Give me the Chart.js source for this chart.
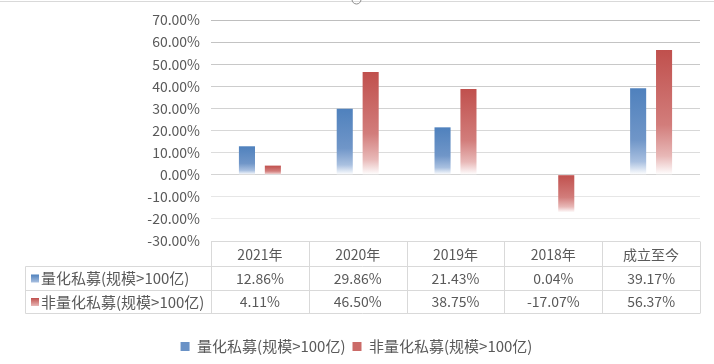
<!DOCTYPE html>
<html>
<head>
<meta charset="utf-8">
<script src="https://cdn.jsdelivr.net/npm/chart.js@4"></script>
<style>
  html, body { margin: 0; padding: 0; background: #fff; }
  #wrap { width: 714px; height: 364px; }
</style>
</head>
<body>
<div id="wrap"><canvas id="returns_chart"></canvas></div>
<script>
// categories and series
const categories = ['2021年', '2020年', '2019年', '2018年', '成立至今'];
const seriesNames = ['量化私募(规模>100亿)', '非量化私募(规模>100亿)'];
const quantReturns = [12.86, 29.86, 21.43, 0.04, 39.17];
const nonQuantReturns = [4.11, 46.50, 38.75, -17.07, 56.37];

const FONT = '"Noto Sans CJK SC", "Noto Sans", sans-serif';
const NUM_SIZE = 14;   // numbers and headers
const NAME_SIZE = 15;  // series names
const TEXT = '#595959';
const LINE = '#D9D9D9';

// bar fill: solid at the top of the bar, fading to white at its bottom
const barFill = (stops, flat) => {
    return function(ctx) {
        const chart = ctx.chart;
        if (ctx.type !== 'data' || !chart.chartArea) return flat;
        const y = chart.scales.y;
        const v = ctx.raw;
        const top = y.getPixelForValue(Math.max(v, 0));
        const bottom = y.getPixelForValue(Math.min(v, 0));
        if (bottom - top < 1) return 'rgba(255,255,255,0)'; // too thin to show
        const g = chart.ctx.createLinearGradient(0, top, 0, bottom);
        g.addColorStop(0, stops[0]);
        g.addColorStop(0.6, stops[1]);
        g.addColorStop(0.85, stops[2]);
        g.addColorStop(1, stops[3]);
        return g;
    };
};
const blueStops = ['#4F81BD', '#7096C8', '#A9C0E0', '#FFFFFF'];
const redStops = ['#C0504D', '#D27D7B', '#E8B8B7', '#FFFFFF'];

const fmt = (v) => v.toFixed(2) + '%';

// grid lines get lighter toward the bottom, zero line a bit stronger
const gridColor = (ctx) => {
    const i = ctx.index;
    if (i === 0) return LINE;
    if (i === 3) return '#D4D4D4';
    const g = 190 + (10 - i) * 5;
    return 'rgb(' + g + ',' + g + ',' + g + ')';
};

// data table under the plot, plus the frame line at the top
const tablePlugin = {
    id: 'dataTable',
    beforeDraw(chart) {
        const ctx = chart.ctx;
        ctx.save();
        ctx.strokeStyle = LINE;
        ctx.lineWidth = 1;
        ctx.beginPath();
        ctx.moveTo(0, 1.5);
        ctx.lineTo(714, 1.5);
        ctx.stroke();
        ctx.strokeStyle = '#8C8C8C';
        ctx.beginPath();
        ctx.arc(356.5, -0.5, 4.5, 0, Math.PI);
        ctx.stroke();
        ctx.restore();
    },
    afterDraw(chart) {
        const ctx = chart.ctx;
        const area = chart.chartArea;
        const x = chart.scales.x;
        const colW = (area.right - area.left) / categories.length;
        const top = Math.round(area.bottom) + 0.5;
        const rows = [top, top + 25, top + 49, top + 72];
        const labelLeft = 25.5;

        ctx.save();
        ctx.strokeStyle = LINE;
        ctx.lineWidth = 1;
        ctx.beginPath();
        // horizontal lines
        ctx.moveTo(area.left, rows[0]); ctx.lineTo(area.right, rows[0]);
        for (let r = 1; r < rows.length; r++) {
            ctx.moveTo(labelLeft, rows[r]);
            ctx.lineTo(area.right, rows[r]);
        }
        // vertical lines
        for (let i = 0; i <= categories.length; i++) {
            const px = Math.round(area.left + i * colW) + 0.5;
            ctx.moveTo(px, rows[0]);
            ctx.lineTo(px, rows[3]);
        }
        ctx.moveTo(labelLeft, rows[1]);
        ctx.lineTo(labelLeft, rows[3]);
        ctx.stroke();

        ctx.fillStyle = TEXT;
        ctx.textBaseline = 'middle';
        const series = [
            { name: seriesNames[0], values: quantReturns, stops: blueStops },
            { name: seriesNames[1], values: nonQuantReturns, stops: redStops }
        ];
        series.forEach((s, r) => {
            const cy = (rows[r + 1] + rows[r + 2]) / 2;
            // small marker
            const g = ctx.createLinearGradient(0, cy - 4, 0, cy + 4);
            g.addColorStop(0, s.stops[0]);
            g.addColorStop(1, s.stops[2]);
            ctx.fillStyle = g;
            ctx.fillRect(31, cy - 4, 8, 8);
            ctx.fillStyle = TEXT;
            ctx.textAlign = 'left';
            ctx.font = NAME_SIZE + 'px ' + FONT;
            ctx.fillText(s.name, 41, cy);
            ctx.textAlign = 'center';
            ctx.font = NUM_SIZE + 'px ' + FONT;
            s.values.forEach((v, i) => {
                ctx.fillText(fmt(v), x.getPixelForValue(i), cy);
            });
        });
        ctx.restore();
    }
};

new Chart('returns_chart', {
    type: 'bar',
    data: {
        labels: categories,
        datasets: [
            {
                label: seriesNames[0],
                data: quantReturns,
                backgroundColor: barFill(blueStops, '#6A92C6')
            },
            {
                label: seriesNames[1],
                data: nonQuantReturns,
                backgroundColor: barFill(redStops, '#CB6B68')
            }
        ]
    },
    options: {
        responsive: true,
        maintainAspectRatio: false,
        animation: false,
        events: [],
        categoryPercentage: 0.53,
        barPercentage: 0.62,
        layout: {
            padding: { left: 13, right: 14, top: 20, bottom: 0 }
        },
        plugins: {
            tooltip: { enabled: false },
            legend: {
                position: 'bottom',
                labels: {
                    boxWidth: 9,
                    boxHeight: 9,
                    padding: 7,
                    color: TEXT,
                    font: { family: FONT, size: NAME_SIZE },
                    generateLabels: (chart) => chart.data.datasets.map((ds, i) => ({
                        text: ds.label,
                        fillStyle: i === 0 ? '#6A92C6' : '#CB6B68',
                        strokeStyle: 'rgba(0,0,0,0)',
                        lineWidth: 0,
                        fontColor: TEXT,
                        datasetIndex: i
                    }))
                }
            }
        },
        scales: {
            x: {
                grid: { display: false, drawTicks: false },
                border: { display: false },
                ticks: {
                    color: TEXT,
                    font: { family: FONT, size: NUM_SIZE },
                    padding: 5
                },
                afterFit: (scale) => { scale.height = 91; }
            },
            y: {
                min: -30,
                max: 70,
                grid: { color: gridColor, drawTicks: false },
                border: { display: false },
                ticks: {
                    stepSize: 10,
                    color: TEXT,
                    font: { family: FONT, size: NUM_SIZE },
                    padding: 11,
                    callback: (v) => fmt(v)
                },
                afterFit: (scale) => { scale.width = 198; }
            }
        }
    },
    plugins: [tablePlugin]
});
</script>
</body>
</html>
